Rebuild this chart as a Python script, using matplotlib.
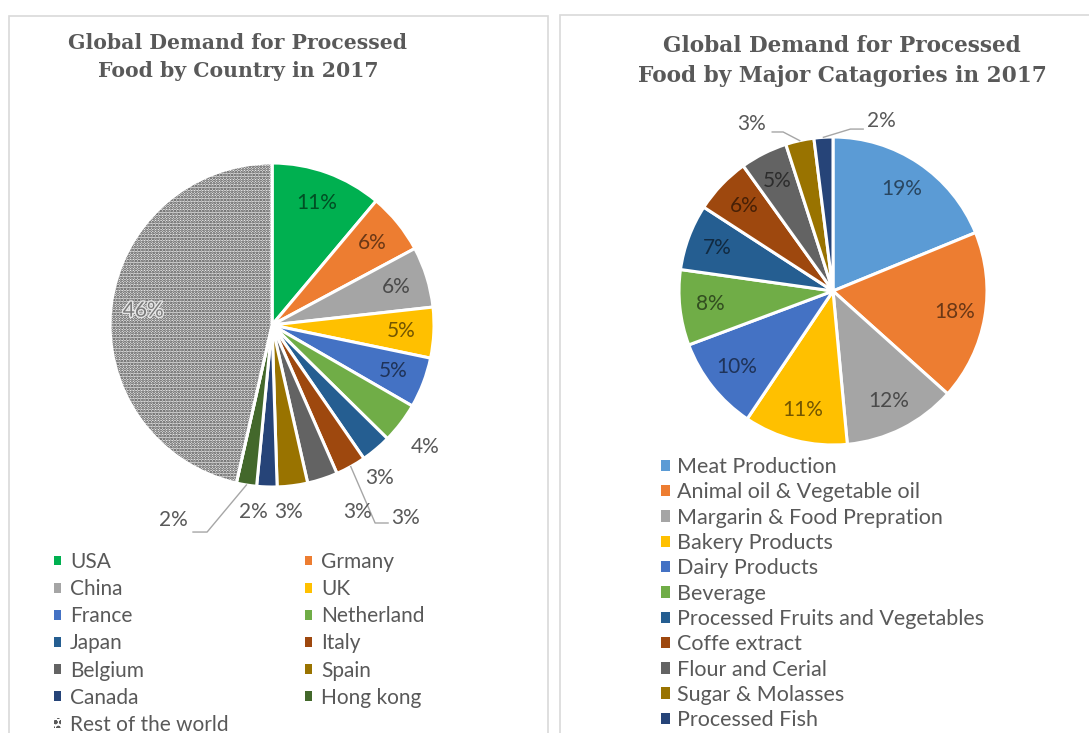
import matplotlib
matplotlib.use("Agg")
import matplotlib.pyplot as plt
import matplotlib.patches as mpatches
import matplotlib.colors as mcolors
import matplotlib.patheffects as pe
import numpy as np

# ---------------- data ----------------
countries = ["USA", "Grmany", "China", "UK", "France", "Netherland", "Japan",
             "Italy", "Belgium", "Spain", "Canada", "Hong kong", "Rest of the world"]
country_share = [11, 6, 6, 5, 5, 4, 3, 3, 3, 3, 2, 2, 46]

categories = ["Meat Production", "Animal oil & Vegetable oil", "Margarin & Food Prepration",
              "Bakery Products", "Dairy Products", "Beverage",
              "Processed Fruits and Vegetables", "Coffe extract", "Flour and Cerial",
              "Sugar & Molasses", "Processed Fish"]
category_share = [19, 18, 12, 11, 10, 8, 7, 6, 5, 3, 2]

title_left = "Global Demand for Processed\nFood by Country in 2017"
title_right = "Global Demand for Processed\nFood by Major Catagories in 2017"

# ---------------- styles ----------------
plt.rcParams["hatch.linewidth"] = 1.3
country_colors = ["#00B050", "#ED7D31", "#A5A5A5", "#FFC000", "#4472C4", "#70AD47",
                  "#255E91", "#9E480E", "#636363", "#997300", "#264478", "#43682B", "#EDEDED"]
category_colors = ["#5B9BD5", "#ED7D31", "#A5A5A5", "#FFC000", "#4472C4", "#70AD47",
                   "#255E91", "#9E480E", "#636363", "#997300", "#264478"]

# label placement per slice: (radius, clockwise angle offset in deg, inside?)
left_lbl = [(0.8, 0, True)] * 5 + [(1.208, 1.3, False), (1.152, 5, False), (1.447, -5.5, False),
            (1.268, -6.3, False), (1.159, 2.1, False), (1.16, 4, False), (1.35, 17.8, False),
            (0.8, 0, True)]
right_lbl = [(0.8, 0, True)] * 9 + [(1.2075, -13.6, False), (1.147, 19.4, False)]
# leader lines: index -> (end_dx, elbow_dx, dy) relative to label centre (pie units)
left_leaders = {7: (-0.105, -0.185, -0.031), 11: (0.123, 0.21, -0.074)}
right_leaders = {9: (0.136, 0.207, -0.052), 10: (-0.117, -0.20, -0.052)}

TXT = "#595959"
LBL_FONT = "Lato"
W, H = 1089, 733
fig = plt.figure(figsize=(W / 100, H / 100), dpi=100)
fig.patch.set_facecolor("white")


def fx(px):
    return px / W


def fy(py):
    return 1 - py / H


def darken(c, f=0.5):
    r, g, b = mcolors.to_rgb(c)
    return (r * f, g * f, b * f)


# panel borders
fig.add_artist(mpatches.Rectangle((fx(9), fy(740)), fx(548) - fx(9), fy(16) - fy(740),
                                  transform=fig.transFigure, fill=False,
                                  edgecolor="#d9d9d9", lw=1.2))
fig.add_artist(mpatches.Rectangle((fx(560), fy(740)), fx(1100) - fx(560), fy(15) - fy(740),
                                  transform=fig.transFigure, fill=False,
                                  edgecolor="#d9d9d9", lw=1.2))


def draw_pie(cx, cy, R, values, colors, lbl_style, leaders, hatch_idx=None):
    ax = fig.add_axes([fx(cx - R), fy(cy + R), 2 * R / W, 2 * R / H])
    wedges, _ = ax.pie(values, colors=colors, startangle=90, counterclock=False,
                       wedgeprops=dict(edgecolor="white", linewidth=2.2))
    ax.set_xlim(-1, 1)
    ax.set_ylim(-1, 1)
    ax.set_aspect("equal")
    ax.axis("off")
    total = float(sum(values))
    if hatch_idx is not None:
        w = wedges[hatch_idx]
        hatch = mpatches.Wedge(w.center, w.r, w.theta1, w.theta2, facecolor="none",
                               edgecolor="#404040", hatch="......", linewidth=0, zorder=3)
        ax.add_patch(hatch)
        outline = mpatches.Wedge(w.center, w.r, w.theta1, w.theta2, facecolor="none",
                                 edgecolor="white", linewidth=2.2, zorder=4)
        ax.add_patch(outline)
    for i, (w, v) in enumerate(zip(wedges, values)):
        r, off, inside = lbl_style[i]
        mid = np.deg2rad((w.theta1 + w.theta2) / 2 - off)
        x, y = r * np.cos(mid), r * np.sin(mid)
        txt = f"{round(100 * v / total):.0f}%"
        effects = None
        if inside:
            if i == hatch_idx:
                col = "#7a7a7a"
                effects = [pe.withStroke(linewidth=2.0, foreground="#e6e6e6")]
            else:
                col = darken(colors[i], 0.45)
        else:
            col = TXT
        ax.text(x, y, txt, ha="center", va="center", fontsize=15, color=col,
                family=LBL_FONT, zorder=6, path_effects=effects)
        if i in leaders:
            edx, bdx, dy = leaders[i]
            m0 = np.deg2rad((w.theta1 + w.theta2) / 2)
            sx, sy = np.cos(m0), np.sin(m0)
            ax.plot([sx, x + bdx, x + edx], [sy, y + dy, y + dy], color="#a6a6a6",
                    lw=1.0, zorder=5, clip_on=False)
    return ax, wedges


axL, wL = draw_pie(272, 325, 162, country_share, country_colors, left_lbl, left_leaders,
                   hatch_idx=len(country_share) - 1)
axR, wR = draw_pie(833, 291, 154, category_share, category_colors, right_lbl, right_leaders)

# titles
fig.text(fx(238), fy(57), title_left, ha="center", va="center", fontsize=14.7,
         family="DejaVu Serif", weight="bold", color=TXT, linespacing=1.56)
fig.text(fx(842), fy(61), title_right, ha="center", va="center", fontsize=15.6,
         family="DejaVu Serif", weight="bold", color=TXT, linespacing=1.5)

# left legend (row-major order in 2 columns)
handles = []
for i, (name, c) in enumerate(zip(countries, country_colors)):
    if i == len(countries) - 1:
        handles.append(mpatches.Patch(facecolor="white", edgecolor="#595959", hatch="ooo",
                                      linewidth=0, label=name))
    else:
        handles.append(mpatches.Patch(facecolor=c, edgecolor="none", label=name))
order = list(range(0, len(handles), 2)) + list(range(1, len(handles), 2))
legL = fig.legend([handles[i] for i in order], [countries[i] for i in order],
                  loc="upper left", bbox_to_anchor=(fx(54), fy(552)), ncol=2,
                  frameon=False, borderpad=0, borderaxespad=0,
                  handlelength=0.35, handleheight=0.35, handletextpad=0.42,
                  labelspacing=0.343, columnspacing=3.66,
                  prop=dict(family=LBL_FONT, size=15))
for t in legL.get_texts():
    t.set_color(TXT)

handlesR = [mpatches.Patch(facecolor=c, edgecolor="none", label=n)
            for n, c in zip(categories, category_colors)]
legR = fig.legend(handlesR, categories, loc="upper left", bbox_to_anchor=(fx(661), fy(457)),
                  ncol=1, frameon=False, borderpad=0, borderaxespad=0,
                  handlelength=0.44, handleheight=0.44, handletextpad=0.3,
                  labelspacing=0.247, prop=dict(family=LBL_FONT, size=15.5))
for t in legR.get_texts():
    t.set_color(TXT)

fig.savefig("out.png", dpi=100, facecolor="white")
